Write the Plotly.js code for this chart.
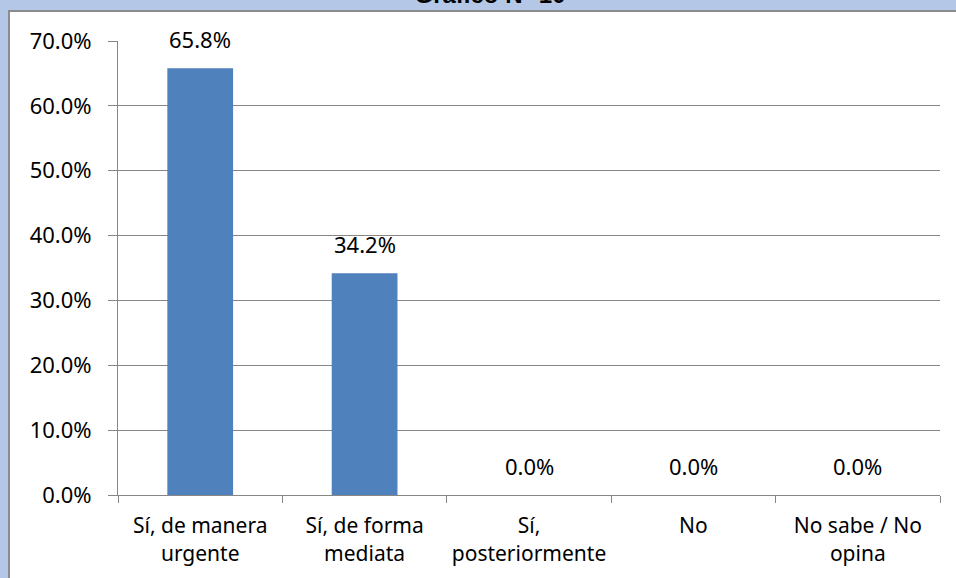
<!DOCTYPE html>
<html>
<head>
<meta charset="utf-8">
<script src="https://cdn.plot.ly/plotly-3.0.1.min.js"></script>
<style>
html,body{margin:0;padding:0;background:#B4C7E7;overflow:hidden;width:956px;height:578px;}
#panel{position:absolute;left:8px;top:10px;width:960px;height:580px;background:#FFFFFF;border-left:2px solid #8C8C8C;border-top:2px solid #8C8C8C;}
#chart{position:absolute;left:0;top:0;width:956px;height:578px;}
</style>
</head>
<body>
<div id="panel"></div>
<div id="chart"></div>
<script>
const chartTitle = "Gráfico N° 10";
const categories = ["Sí, de manera<br>urgente", "Sí, de forma<br>mediata", "Sí,<br>posteriormente", "No", "No sabe / No<br>opina"];
const values = [65.8, 34.2, 0.0, 0.0, 0.0];
const yTickVals = [0, 10, 20, 30, 40, 50, 60, 70];
const yTickText = ["0.0%", "10.0%", "20.0%", "30.0%", "40.0%", "50.0%", "60.0%", "70.0%"];

const font = "Noto Sans, Open Sans, sans-serif";
const W = 956, H = 578;
const m = {l:118, r:16, t:41, b:83};

const trace = {
  type: "bar",
  x: categories,
  y: values,
  marker: {color: "#4F81BD", line: {width: 0}},
  hoverinfo: "skip"
};

const annotations = values.map((v, i) => ({
  x: categories[i], y: v, xref: "x", yref: "y",
  text: v.toFixed(1) + "%", showarrow: false,
  yanchor: "bottom", yshift: 12,
  font: {family: font, size: 22, color: "#000"}
}));

const layout = {
  width: W, height: H,
  margin: m,
  paper_bgcolor: "rgba(0,0,0,0)",
  plot_bgcolor: "rgba(0,0,0,0)",
  showlegend: false,
  bargap: 0.6,
  title: {
    text: chartTitle,
    xref: "container", yref: "container",
    x: 490 / W, y: 1 - 3 / H, xanchor: "center", yanchor: "bottom",
    font: {family: "Liberation Sans, Arial, sans-serif", size: 24, color: "#000", weight: "bold"}
  },
  xaxis: {
    type: "category",
    showline: true, linecolor: "#868686", linewidth: 1,
    ticks: "outside", tickson: "boundaries", ticklen: 7, tickcolor: "#868686",
    showgrid: false,
    ticklabelstandoff: 12,
    tickfont: {family: font, size: 21, color: "#000"},
    fixedrange: true
  },
  yaxis: {
    range: [0, 70],
    tickvals: yTickVals, ticktext: yTickText,
    showline: true, linecolor: "#868686", linewidth: 1,
    ticks: "outside", ticklen: 9, tickcolor: "#868686",
    showgrid: true, gridcolor: "#868686", gridwidth: 1,
    zeroline: false,
    ticklabelstandoff: 12,
    tickfont: {family: font, size: 22, color: "#000"},
    fixedrange: true
  },
  annotations: annotations
};

Plotly.newPlot("chart", [trace], layout, {displayModeBar: false, staticPlot: true});
</script>
</body>
</html>
